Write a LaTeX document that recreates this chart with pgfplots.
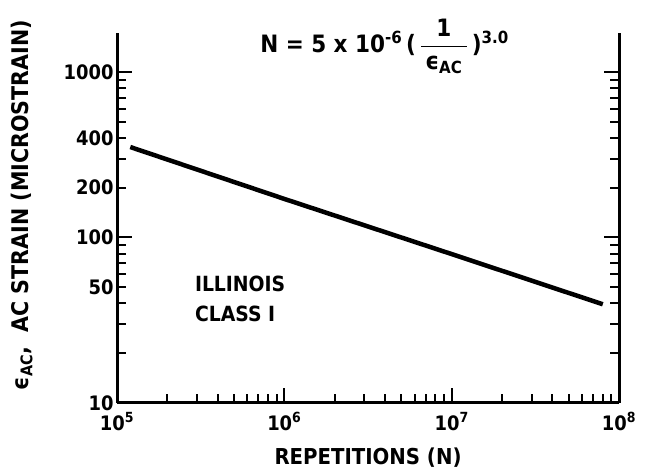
\documentclass[border=0pt]{standalone}
\usepackage{fontspec}
\setmainfont{DejaVu Sans Condensed}[BoldFont={DejaVu Sans Condensed Bold}]
\usepackage{amsmath}
\usepackage{pgfplots}
\pgfplotsset{compat=1.18}
\begin{document}
\begin{tikzpicture}
\begin{loglogaxis}[
  scale only axis, width=502bp, height=370bp,
  xmin=1e5, xmax=1e8, ymin=10, ymax=1720,
  axis x line=bottom, axis y line=box,
  axis line style={-, line width=3bp},
  every outer x axis line/.append style={line width=3bp},
  every outer y axis line/.append style={line width=3bp},
  tick align=inside,
  clip=false,
  xtick={1e5,1e6,1e7,1e8},
  xticklabels={10\textsuperscript{5},10\textsuperscript{6},10\textsuperscript{7},10\textsuperscript{8}},
  xticklabel style={yshift=-6bp},
  minor xtick={2e5,3e5,4e5,5e5,6e5,7e5,8e5,9e5,2e6,3e6,4e6,5e6,6e6,7e6,8e6,9e6,2e7,3e7,4e7,5e7,6e7,7e7,8e7,9e7},
  ytick={10,100,1000}, yticklabels={10,100,1000},
  extra y ticks={50,200,400}, extra y tick labels={50,200,400},
  extra y tick style={major tick length=9bp},
  minor ytick={20,30,40,60,70,80,90,300,500,600,700,800,900},
  major tick length=15bp, minor tick length=9bp,
  tick style={black, line width=2bp},
  tick label style={font=\bfseries\fontsize{20}{23}\selectfont},
  /pgf/number format/assume math mode=true,
]
\addplot[black, line width=4.5bp] coordinates {(1.2e5,352) (1e6,171) (1e7,79.4) (8e7,39.5)};
\coordinate (sw) at (rel axis cs:0,0);
\node[anchor=base west, inner sep=0, font=\bfseries\fontsize{24}{28}\selectfont] at (rel axis cs:0.285,0.946)
  {N\ =\ 5\ x\ 10\textsuperscript{-6}\,(\,$\dfrac{\text{\bfseries 1}}{\,\text{\bfseries ϵ\textsubscript{AC}}\,}$\,)\textsuperscript{3.0}};
\node[anchor=north west, align=left, inner sep=0, font=\bfseries\fontsize{21}{30}\selectfont] at (rel axis cs:0.155,0.343)
  {ILLINOIS\\CLASS I};
\node[rotate=90, anchor=center, inner sep=0, font=\bfseries\fontsize{23}{27}\selectfont] at ([xshift=-95bp]rel axis cs:0,0.535)
  {ϵ\textsubscript{AC},\ \ AC STRAIN (MICROSTRAIN)};
\node[anchor=center, inner sep=0, font=\bfseries\fontsize{22}{26}\selectfont] at ([yshift=-55bp]rel axis cs:0.5,0)
  {REPETITIONS (N)};
\end{loglogaxis}
\pgfresetboundingbox
\path (sw) ++(-117bp,-72bp) rectangle ++(649bp,475bp);
\end{tikzpicture}
\end{document}
